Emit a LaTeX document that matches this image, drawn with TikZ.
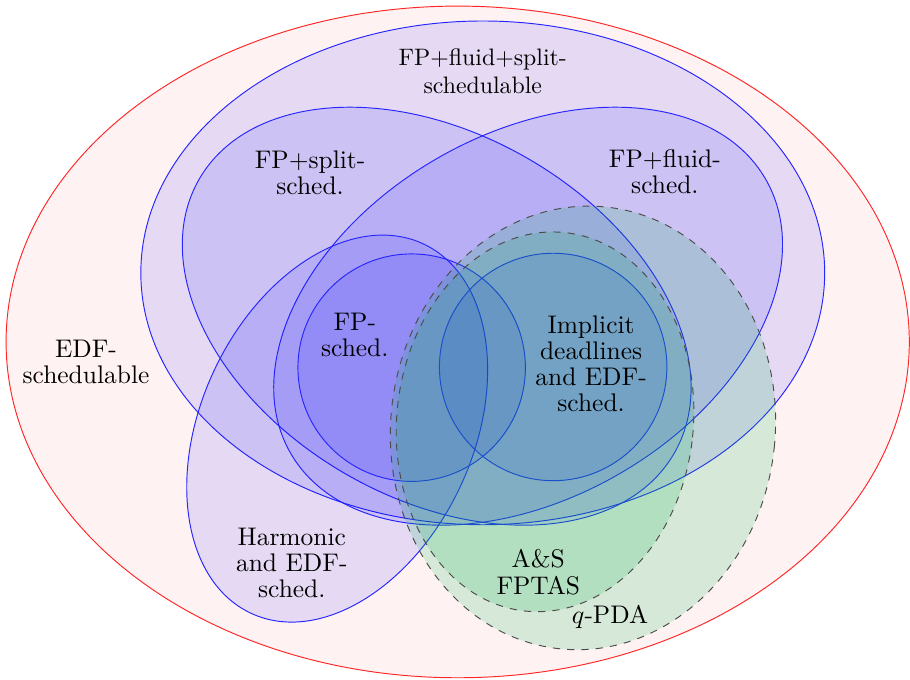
\documentclass[tikz,border=0pt]{standalone}
\usepackage{fontspec}
\definecolor{pdagreen}{RGB}{0,180,80}
\begin{document}
\begin{tikzpicture}
	\tikzstyle{cls}=[draw=blue!85,fill=blue,fill opacity=0.1]
	\tikzstyle{approx}=[draw=black!70,dashed,fill=pdagreen,fill opacity=0.16]
	\tikzstyle{lbl}=[align=center,inner sep=0,font=\fontsize{10.7}{11}\selectfont]
	
	\useasboundingbox (-6.72,-5.02) rectangle (6.72,5.02);
	
	\draw[draw=red!85,fill=red!5] (0.04,-0.03) ellipse [x radius=6.67,y radius=4.96];
	\draw[cls] (0.41,0.99) ellipse [x radius=5.05,y radius=3.72];
	\draw[cls] (-0.27,0.35) ellipse [x radius=4.05,y radius=2.69,rotate=-30];
	\draw[cls] (1.08,0.35) ellipse [x radius=4.05,y radius=2.69,rotate=30];
	\draw[cls] (-1.74,-1.31) ellipse [x radius=3.01,y radius=2.01,rotate=65];
	\draw[cls] (-0.64,-0.41) circle [radius=1.68];
	\draw[cls] (1.45,-0.40) circle [radius=1.68];
	\draw[approx] (1.89,-1.30) ellipse [x radius=2.84,y radius=3.28,rotate=-6];
	\draw[approx] (1.33,-1.21) ellipse [x radius=2.19,y radius=2.81,rotate=-6];
	
	\node[lbl] (edf) at (-5.45,-0.32) {EDF-\\schedulable};
	\node[lbl,font=\normalsize] (ffs) at (0.41,3.97) {FP+fluid+split-\\schedulable};
	\node[lbl] (fps) at (-2.14,2.47) {FP+split-\\sched.};
	\node[lbl] (fpf) at (3.10,2.48) {FP+fluid-\\sched.};
	\node[lbl] (fp) at (-1.48,0.07) {FP-\\sched.};
	\node[lbl] (impl) at (2.01,-0.35) {Implicit\\deadlines\\and EDF-\\sched.};
	\node[lbl] (harm) at (-2.41,-3.29) {Harmonic\\and EDF-\\sched.};
	\node[lbl] (as) at (1.23,-3.43) {A\&S\\FPTAS};
	\node[lbl] (qpda) at (2.29,-4.09) {$q$-PDA};
\end{tikzpicture}
\end{document}
